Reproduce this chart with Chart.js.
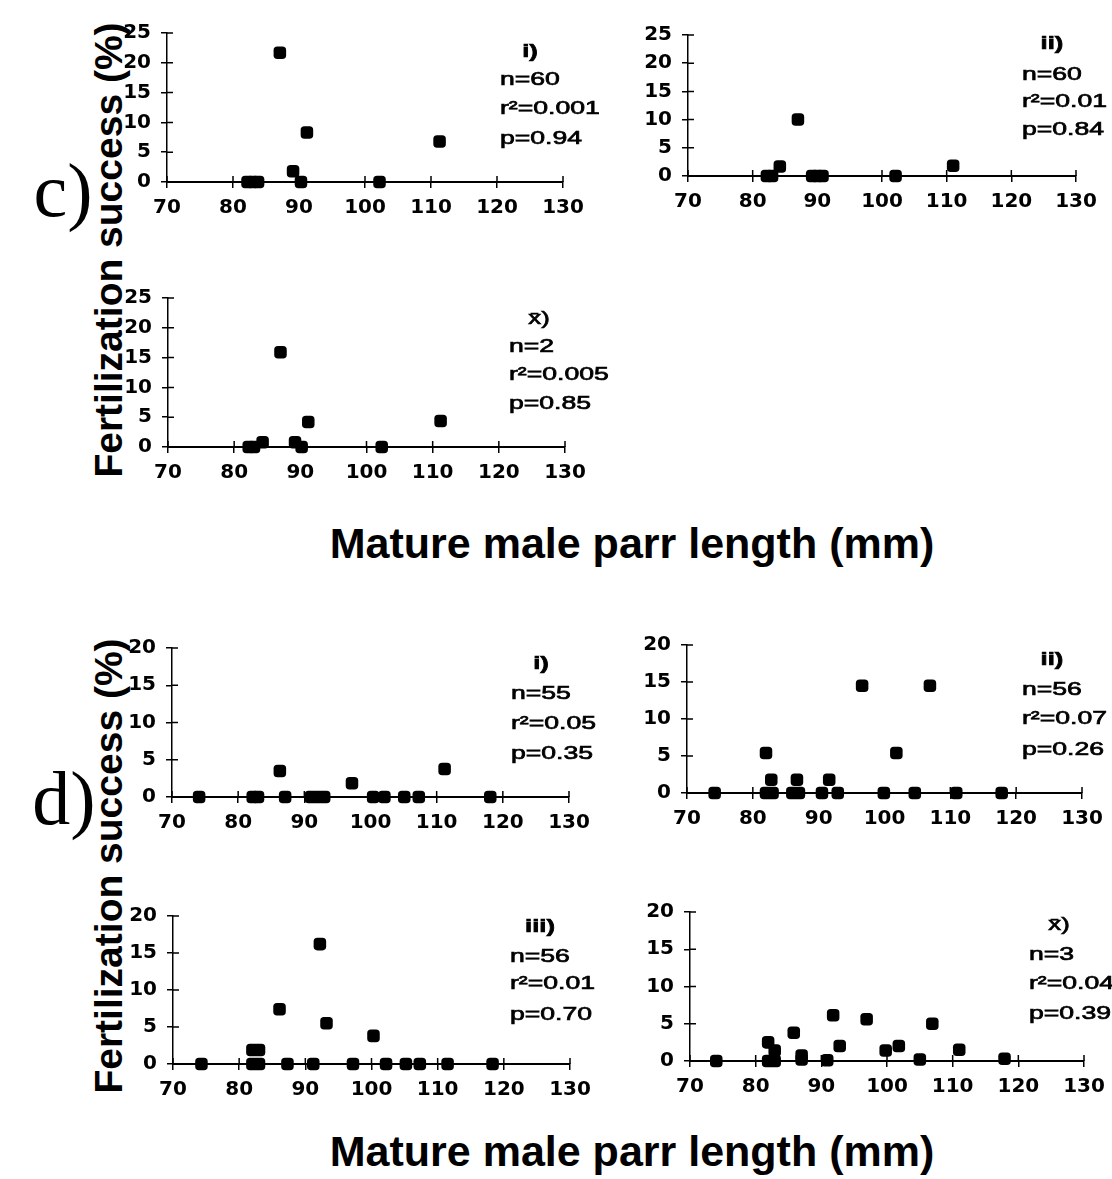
<!DOCTYPE html>
<html>
<head>
<meta charset="utf-8">
<script src="https://cdn.jsdelivr.net/npm/chart.js@4.4.0/dist/chart.umd.min.js"></script>
<style>
body { margin:0; background:#fff; }
#wrap { position:relative; width:1112px; height:1179px; overflow:hidden; background:#fff; }
canvas.panel { position:absolute; }
.title { position:absolute; font-family:"Liberation Sans", Arial, sans-serif; font-weight:bold; color:#000; white-space:nowrap; line-height:1; }
.xtitle { font-size:43px; transform:translate(-50%,-50%); }
.ytitle { font-size:39px; transform:translate(-50%,-50%) rotate(-90deg); }
.part { position:absolute; font-family:"Liberation Serif", "Times New Roman", serif; font-size:76px; line-height:1; color:#000; transform:translate(-50%,-50%); }
</style>
</head>
<body>
<div id="wrap">
  <div class="part" style="left:63px;top:190px">c)</div>
  <div class="part" style="left:64px;top:798px">d)</div>
  <div class="title ytitle" style="left:108px;top:250px">Fertilization success (%)</div>
  <div class="title ytitle" style="left:108px;top:866px">Fertilization success (%)</div>
  <div class="title xtitle" style="left:632px;top:543px">Mature male parr length (mm)</div>
  <div class="title xtitle" style="left:632px;top:1151px">Mature male parr length (mm)</div>
</div>
<script>
// axis ticks
const lengthTicks = [70, 80, 90, 100, 110, 120, 130];
const successTicksC = [0, 5, 10, 15, 20, 25];
const successTicksD = [0, 5, 10, 15, 20];

// c) i)
const ciLength  = [82.2, 83, 83.8, 87.1, 89.1, 90.3, 91.2, 102.2, 111.3];
const ciSuccess = [0, 0, 0, 21.7, 1.8, 0, 8.3, 0, 6.8];
const ciStats = ['i)', 'n=60', 'r²=0.001', 'p=0.94'];

// c) ii)
const ciiLength  = [82.2, 83, 84.2, 87, 89.2, 90, 90.8, 102.1, 111];
const ciiSuccess = [0, 0, 1.7, 10, 0, 0, 0, 0, 1.8];
const ciiStats = ['ii)', 'n=60', 'r²=0.01', 'p=0.84'];

// c) mean
const cmLength  = [82.2, 83, 84.3, 87, 89.2, 90.2, 91.2, 102.3, 111.2];
const cmSuccess = [0, 0, 0.8, 15.9, 0.8, 0, 4.2, 0, 4.35];
const cmStats = ['x̄)', 'n=2', 'r²=0.005', 'p=0.85'];

// d) i)
const diLength  = [74.1, 82.2, 83, 86.3, 87.1, 91, 92, 93, 97.2, 100.4, 102.1, 105.1, 107.3, 111.2, 118.1];
const diSuccess = [0, 0, 0, 3.5, 0, 0, 0, 0, 1.85, 0, 0, 0, 0, 3.75, 0];
const diStats = ['i)', 'n=55', 'r²=0.05', 'p=0.35'];

// d) ii)
const diiLength  = [74.2, 82, 82, 82.8, 83, 86, 86.7, 87, 90.5, 91.6, 92.9, 96.6, 99.9, 101.8, 104.6, 106.9, 110.9, 117.8];
const diiSuccess = [0, 0, 5.4, 1.8, 0, 0, 1.8, 0, 0, 1.8, 0, 14.5, 0, 5.4, 0, 14.5, 0, 0];
const diiStats = ['ii)', 'n=56', 'r²=0.07', 'p=0.26'];

// d) iii)
const diiiLength  = [74.3, 82, 82, 83, 83, 86.1, 87.3, 91.2, 92.2, 93.2, 97.2, 100.3, 102.2, 105.2, 107.3, 111.5, 118.3];
const diiiSuccess = [0, 0, 1.9, 0, 1.9, 7.4, 0, 0, 16.2, 5.5, 0, 3.8, 0, 0, 0, 0, 0];
const diiiStats = ['iii)', 'n=56', 'r²=0.01', 'p=0.70'];

// d) mean
const dmLength  = [74, 81.9, 81.9, 82.9, 82.9, 85.8, 87, 87, 90.9, 91.8, 92.8, 96.9, 99.8, 101.8, 105, 106.9, 111, 117.9];
const dmSuccess = [0, 0, 2.5, 0, 1.4, 3.8, 0.75, 0.2, 0.1, 6.15, 2.0, 5.6, 1.4, 2.0, 0.2, 5.0, 1.5, 0.3];
const dmStats = ['x̄)', 'n=3', 'r²=0.04', 'p=0.39'];

// plot area of each panel on the page: left, right, top, bottom (px)
// stats text: offset left of the right edge, line centres below plot top
const panels = [
  { box: [166.7, 562.7, 30.7, 181.7],  xs: ciLength,   ys: ciSuccess,   ticks: successTicksC, stats: ciStats,   tx: 63, ty: [19, 47, 76, 106] },
  { box: [688.3, 1076, 32.7, 175.7],   xs: ciiLength,  ys: ciiSuccess,  ticks: successTicksC, stats: ciiStats,  tx: 54, ty: [9, 40, 67, 95] },
  { box: [168.3, 565, 296, 447.3],     xs: cmLength,   ys: cmSuccess,   ticks: successTicksC, stats: cmStats,   tx: 56, ty: [21, 49, 77, 106] },
  { box: [171.7, 568.3, 645.7, 796.7], xs: diLength,   ys: diSuccess,   ticks: successTicksD, stats: diStats,   tx: 58, ty: [16, 46, 76, 106] },
  { box: [686.7, 1081.7, 643.3, 793.7],xs: diiLength,  ys: diiSuccess,  ticks: successTicksD, stats: diiStats,  tx: 60, ty: [15, 45, 74, 105] },
  { box: [173.3, 570, 914, 1064.3],    xs: diiiLength, ys: diiiSuccess, ticks: successTicksD, stats: diiiStats, tx: 60, ty: [11, 41, 68, 99] },
  { box: [690, 1084.3, 910, 1060.7],   xs: dmLength,   ys: dmSuccess,   ticks: successTicksD, stats: dmStats,   tx: 55, ty: [13, 43, 72, 102] }
];

// ticks cross the axis lines: Chart.js draws the outer half, this the inner half
const crossTicks = {
  id: 'crossTicks',
  beforeDatasetsDraw(chart) {
    const ctx = chart.ctx, a = chart.chartArea;
    const xs = chart.scales.x, ys = chart.scales.y;
    ctx.save();
    ctx.strokeStyle = '#000';
    ctx.lineWidth = 1.5;
    ctx.beginPath();
    xs.ticks.forEach(t => {
      const px = xs.getPixelForValue(t.value);
      ctx.moveTo(px, a.bottom);
      ctx.lineTo(px, a.bottom - 6);
    });
    ys.ticks.forEach(t => {
      const py = ys.getPixelForValue(t.value);
      ctx.moveTo(a.left, py);
      ctx.lineTo(a.left + 6, py);
    });
    ctx.stroke();
    ctx.restore();
  }
};

const statsText = {
  id: 'statsText',
  afterDraw(chart, args, opts) {
    const ctx = chart.ctx, a = chart.chartArea;
    const x0 = a.right - opts.tx;
    ctx.save();
    ctx.fillStyle = '#000';
    ctx.strokeStyle = '#000';
    ctx.lineWidth = 0.7;
    ctx.textBaseline = 'middle';
    opts.lines.forEach((txt, i) => {
      ctx.save();
      if (i === 0) {
        ctx.font = (txt.indexOf('x') >= 0 ? '' : 'bold ') + '19px "Liberation Sans", Arial, sans-serif';
        ctx.translate(x0 + 30, a.top + opts.ty[i]);
        ctx.scale(1.35, 1);
        ctx.textAlign = 'center';
      } else {
        ctx.font = '19px "Liberation Sans", Arial, sans-serif';
        ctx.translate(x0, a.top + opts.ty[i]);
        ctx.scale(1.4, 1);
        ctx.textAlign = 'left';
      }
      ctx.fillText(txt, 0, 0);
      ctx.strokeText(txt, 0, 0);
      ctx.restore();
    });
    ctx.restore();
  }
};

const tickFont = { family: 'DejaVu Sans', weight: 'bold', size: 20 };
const wrap = document.getElementById('wrap');

panels.forEach(p => {
  const [L, R, T, B] = p.box;
  const cv = document.createElement('canvas');
  cv.className = 'panel';
  const w = Math.round(R - L) + 130;
  const h = Math.round(B - T) + 65;
  cv.width = w; cv.height = h;
  cv.style.width = w + 'px'; cv.style.height = h + 'px';
  cv.style.left = (Math.round(L) - 70) + 'px';
  cv.style.top = (Math.round(T) - 20) + 'px';
  wrap.appendChild(cv);

  new Chart(cv.getContext('2d'), {
    type: 'scatter',
    data: {
      datasets: [{
        data: p.xs.map((x, i) => ({ x: x, y: p.ys[i] })),
        pointStyle: 'rectRounded',
        pointRadius: 7.3,
        backgroundColor: '#000',
        borderColor: '#000',
        borderWidth: 0,
        clip: false
      }]
    },
    options: {
      responsive: false,
      animation: false,
      events: [],
      layout: { padding: { left: 10, top: 20, right: 60, bottom: 10 } },
      plugins: {
        legend: { display: false },
        tooltip: { enabled: false },
        statsText: { lines: p.stats, tx: p.tx, ty: p.ty }
      },
      scales: {
        x: {
          type: 'linear',
          min: lengthTicks[0],
          max: lengthTicks[lengthTicks.length - 1],
          afterFit: s => { s.height = 35; },
          ticks: { stepSize: lengthTicks[1] - lengthTicks[0], color: '#000', font: tickFont, padding: 8, maxRotation: 0, autoSkip: false },
          grid: { drawOnChartArea: false, drawTicks: true, tickLength: 6, color: '#000', lineWidth: 1.5 },
          border: { color: '#000', width: 2 }
        },
        y: {
          min: p.ticks[0],
          max: p.ticks[p.ticks.length - 1],
          afterFit: s => { s.width = 60; },
          ticks: { stepSize: p.ticks[1] - p.ticks[0], color: '#000', font: tickFont, padding: 10 },
          grid: { drawOnChartArea: false, drawTicks: true, tickLength: 6, color: '#000', lineWidth: 1.5 },
          border: { color: '#000', width: 1.5 }
        }
      }
    },
    plugins: [crossTicks, statsText]
  });
});
</script>
</body>
</html>
